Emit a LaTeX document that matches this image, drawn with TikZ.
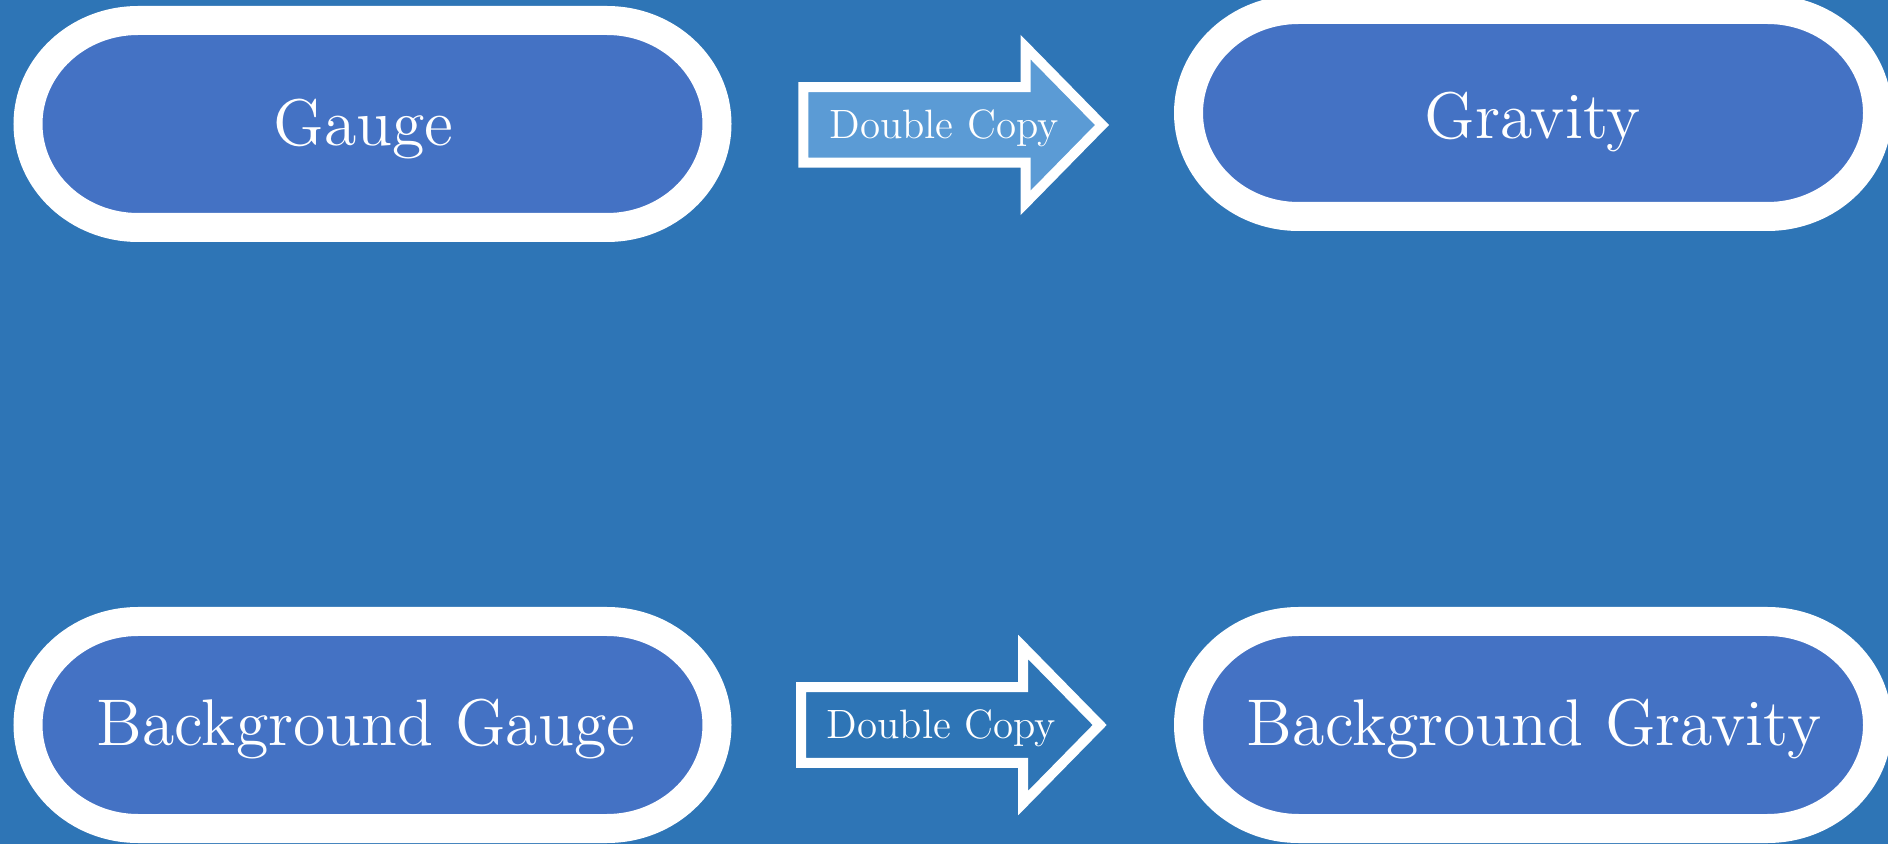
\documentclass[tikz,border=0pt]{standalone}
\definecolor{bgblue}{HTML}{2E75B6}
\definecolor{pillblue}{HTML}{4472C4}
\definecolor{arrowblue}{HTML}{5B9BD5}
\font\bigfnt="[lmroman12-regular]:mapping=tex-text" at 66pt
\font\smallfnt="[lmroman12-regular]:mapping=tex-text" at 41pt
\tikzset{
  pillbox/.style={draw=white, line width=29pt, fill=pillblue},
  blockarrow/.style={draw=white, line width=10pt, line join=miter, miter limit=10},
  bigtext/.style={text=white, inner sep=0pt, anchor=base, font=\bigfnt},
  smalltext/.style={text=white, inner sep=0pt, anchor=base, font=\smallfnt},
}
\newcommand\pillat[2]{%
  \begin{scope}[shift={(#1,#2)}]
    \draw[pillbox] (-234.5,103.5) -- (234.5,103.5)
      arc[start angle=90,end angle=-90,x radius=110,y radius=103.5]
      -- (-234.5,-103.5)
      arc[start angle=270,end angle=90,x radius=110,y radius=103.5] -- cycle;
  \end{scope}}
\newcommand\blockarrowat[3]{%
  \begin{scope}[shift={(#1,#2)}]
    \draw[blockarrow,#3] (0,37.75) -- (222.2,37.75) -- (222.2,78) -- (298.7,0)
      -- (222.2,-78) -- (222.2,-37.75) -- (0,-37.75) -- cycle;
  \end{scope}}
\begin{document}
\begin{tikzpicture}[x=1pt,y=1pt]
\fill[bgblue] (0,0) rectangle (1888,844);
\useasboundingbox (0,0) rectangle (1888,844);
\begin{scope}
\clip (0,0) rectangle (1888,844);
\pillat{372.5}{720}
\pillat{1533}{731}
\pillat{372.5}{119}
\pillat{1533}{119}
\blockarrowat{803.3}{719}{fill=arrowblue}
\blockarrowat{801}{119}{}
\end{scope}
\node[bigtext] (gauge) at (363.5,698) {Gauge};
\node[bigtext] (gravity) at (1532.5,705) {Gravity};
\node[bigtext] (bggauge) at (366,98.3) {Background Gauge};
\node[bigtext] (bggravity) at (1534,99) {Background Gravity};
\node[smalltext] (dc1) at (944,705.7) {Double Copy};
\node[smalltext] (dc2) at (941.5,105.7) {Double Copy};
\end{tikzpicture}
\end{document}
